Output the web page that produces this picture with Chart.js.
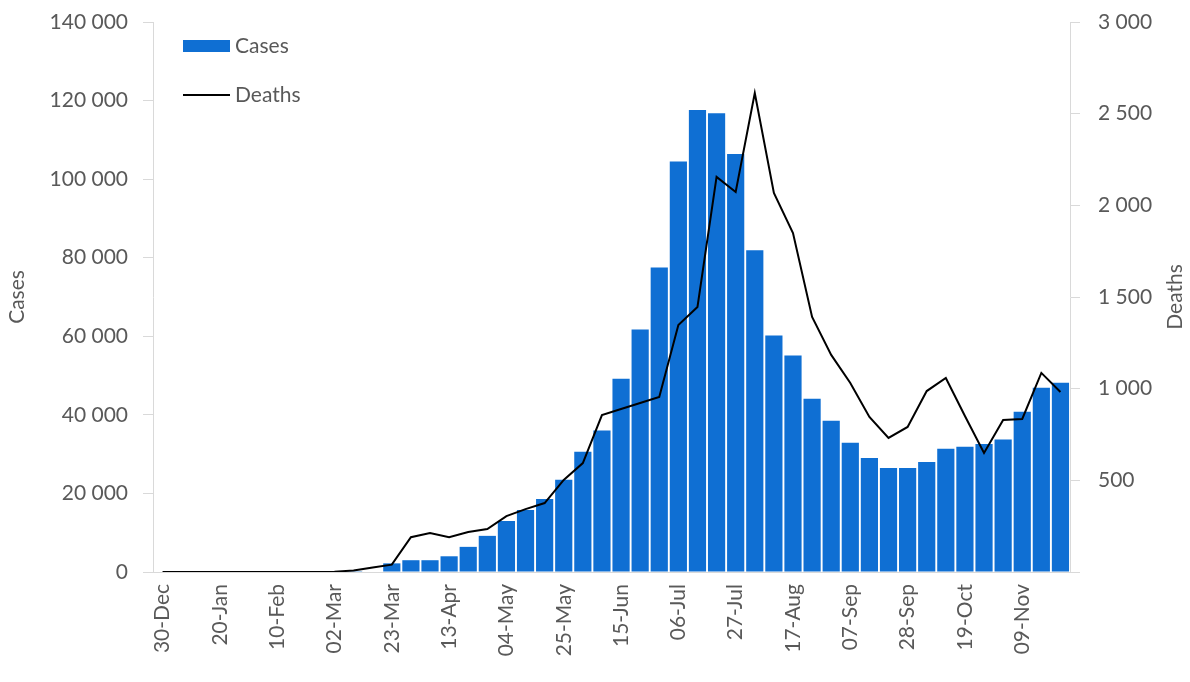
<!DOCTYPE html>
<html>
<head>
<meta charset="utf-8">
<script src="https://cdn.jsdelivr.net/npm/chart.js@4.4.0/dist/chart.umd.min.js"></script>
<style>
  html, body { margin: 0; padding: 0; background: #fff; }
</style>
</head>
<body>
<canvas id="chart" width="1190" height="682"></canvas>
<script>
// weekly categories (week starting)
const WEEKS = [
  '30-Dec','06-Jan','13-Jan','20-Jan','27-Jan','03-Feb','10-Feb','17-Feb','24-Feb',
  '02-Mar','09-Mar','16-Mar','23-Mar','30-Mar','06-Apr','13-Apr','20-Apr','27-Apr',
  '04-May','11-May','18-May','25-May','01-Jun','08-Jun','15-Jun','22-Jun','29-Jun',
  '06-Jul','13-Jul','20-Jul','27-Jul','03-Aug','10-Aug','17-Aug','24-Aug','31-Aug',
  '07-Sep','14-Sep','21-Sep','28-Sep','05-Oct','12-Oct','19-Oct','26-Oct','02-Nov',
  '09-Nov','16-Nov','23-Nov',
];

const CASES = [
  0, 0, 0, 0, 0, 0, 0, 0, 0,
  10, 40, 120, 2200, 3000, 3000, 4000, 6400, 9200,
  13000, 15800, 18600, 23500, 30600, 36000, 49200, 61700, 77500,
  104500, 117600, 116800, 106400, 81900, 60200, 55100, 44100, 38500,
  32900, 29000, 26500, 26500, 28000, 31400, 31900, 32600, 33700,
  40800, 46900, 48200,
];

const DEATHS = [
  0, 0, 0, 0, 0, 0, 0, 0, 0,
  2, 8, 25, 40, 190, 212, 190, 218, 234,
  305, 343, 376, 502, 594, 856, 889, 922, 955,
  1347, 1446, 2155, 2073, 2613, 2067, 1849, 1391, 1184,
  1031, 846, 731, 791, 987, 1058, 851, 649, 829,
  835, 1086, 982,
];

const CASES_MAX = 140000, CASES_STEP = 20000;
const DEATHS_MAX = 3000, DEATHS_STEP = 500;

const BAR_COLOR = '#0f6fd3';
const LINE_COLOR = '#000000';
const TEXT = '#595959';
const AXIS = '#d9d9d9';
const FONT_FAMILY = 'Lato, "Noto Sans", sans-serif';
const FONT_SIZE = 21;

const fmt = v => String(v).replace(/\B(?=(\d{3})+(?!\d))/g, ' ');

// legend inside the plot + right axis title reading upward
const overlay = {
  id: 'overlay',
  afterDraw(chart) {
    const { ctx, chartArea } = chart;
    const ds = chart.data.datasets;
    ctx.save();
    ctx.font = `${FONT_SIZE}px ${FONT_FAMILY}`;
    ctx.textBaseline = 'middle';
    ctx.textAlign = 'left';

    const lx = chartArea.left + 30;
    const y1 = chartArea.top + 24;
    const y2 = chartArea.top + 73;
    ctx.fillStyle = ds[0].backgroundColor;
    ctx.fillRect(lx, y1 - 6, 47, 12);
    ctx.strokeStyle = ds[1].borderColor;
    ctx.lineWidth = 2;
    ctx.beginPath();
    ctx.moveTo(lx, y2);
    ctx.lineTo(lx + 47, y2);
    ctx.stroke();
    ctx.fillStyle = TEXT;
    ctx.fillText(ds[0].label, lx + 52, y1);
    ctx.fillText(ds[1].label, lx + 52, y2);

    ctx.translate(1175, (chartArea.top + chartArea.bottom) / 2);
    ctx.rotate(-Math.PI / 2);
    ctx.textAlign = 'center';
    ctx.fillText('Deaths', 0, 0);
    ctx.restore();
  },
};

new Chart(document.getElementById('chart').getContext('2d'), {
  type: 'bar',
  data: {
    labels: WEEKS,
    datasets: [
      {
        label: 'Cases',
        data: CASES,
        backgroundColor: BAR_COLOR,
        borderWidth: 0,
        barPercentage: 0.9,
        categoryPercentage: 1.0,
        yAxisID: 'y',
        order: 1,
      },
      {
        label: 'Deaths',
        type: 'line',
        data: DEATHS,
        borderColor: LINE_COLOR,
        borderWidth: 2,
        pointRadius: 0,
        tension: 0,
        fill: false,
        yAxisID: 'y1',
        order: 0,
      },
    ],
  },
  options: {
    responsive: false,
    animation: false,
    layout: { padding: { top: 22, right: 0, bottom: 0, left: 0 } },
    plugins: {
      legend: { display: false },
      tooltip: { enabled: false },
    },
    scales: {
      x: {
        grid: { display: false, drawTicks: false },
        border: { display: true, color: AXIS, width: 1 },
        ticks: {
          autoSkip: false,
          maxRotation: 90,
          minRotation: 90,
          padding: 12,
          color: TEXT,
          font: { family: FONT_FAMILY, size: FONT_SIZE },
          callback: (v, i) => (i % 3 === 0 ? WEEKS[i] : ''),
        },
        afterFit: s => { s.height = 110; },
      },
      y: {
        position: 'left',
        min: 0,
        max: CASES_MAX,
        grid: { drawOnChartArea: false, drawTicks: true, tickLength: 10, color: AXIS },
        border: { display: true, color: AXIS },
        ticks: {
          stepSize: CASES_STEP,
          padding: 15,
          color: TEXT,
          font: { family: FONT_FAMILY, size: FONT_SIZE },
          callback: v => fmt(v),
        },
        title: {
          display: true,
          text: 'Cases',
          color: TEXT,
          font: { family: FONT_FAMILY, size: FONT_SIZE },
          padding: { top: 5, bottom: 0 },
        },
        afterFit: s => { s.width = 153; s.paddingTop = 0; s.paddingBottom = 0; },
      },
      y1: {
        position: 'right',
        min: 0,
        max: DEATHS_MAX,
        grid: { drawOnChartArea: false, drawTicks: true, tickLength: 10, color: AXIS },
        border: { display: true, color: AXIS },
        ticks: {
          stepSize: DEATHS_STEP,
          padding: 18,
          color: TEXT,
          font: { family: FONT_FAMILY, size: FONT_SIZE },
          callback: v => (v === 0 ? '' : fmt(v)),
        },
        afterFit: s => { s.width = 120; s.paddingTop = 0; s.paddingBottom = 0; },
      },
    },
  },
  plugins: [overlay],
});
</script>
</body>
</html>
